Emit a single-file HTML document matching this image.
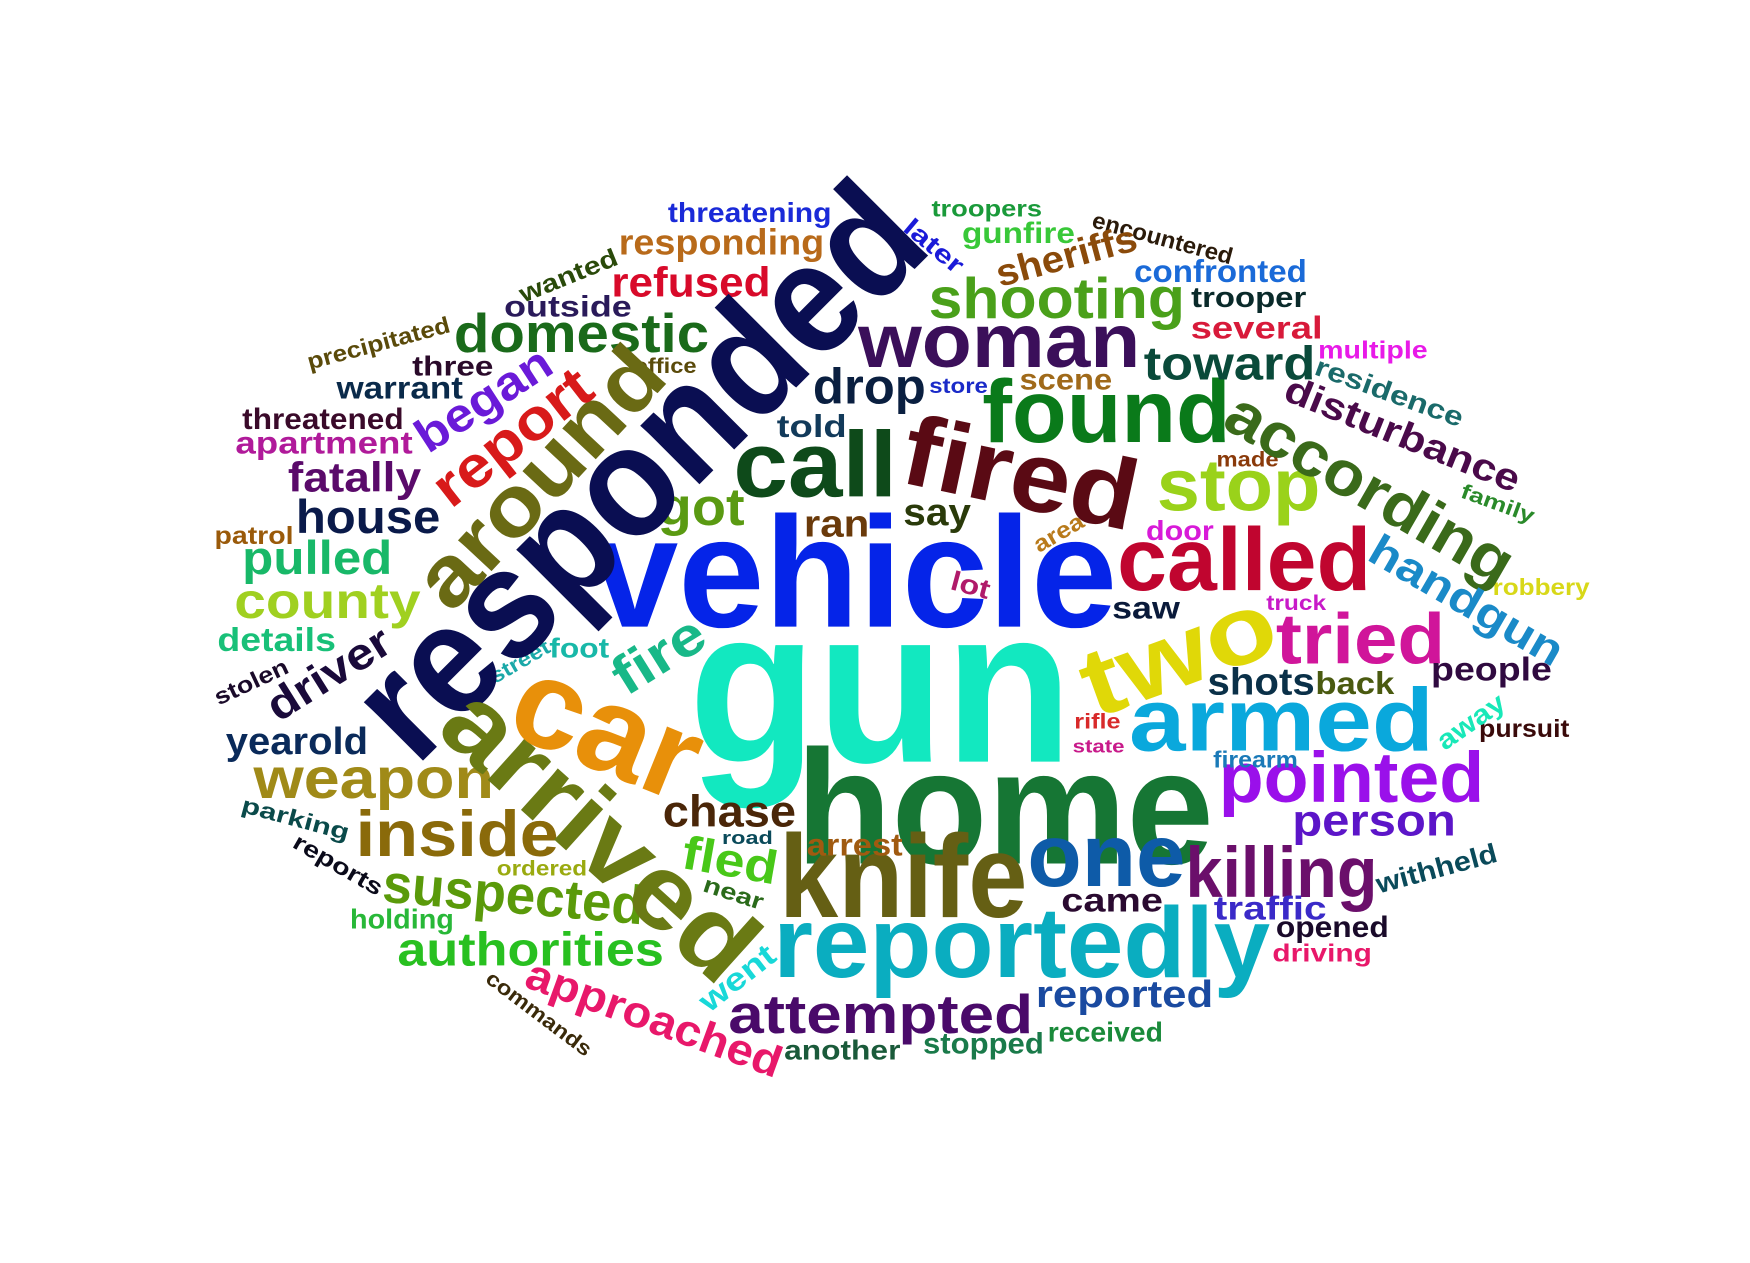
<!DOCTYPE html>
<html><head><meta charset="utf-8">
<style>
html,body{margin:0;padding:0;background:#fff;}
svg{display:block;}
text{font-family:"Liberation Sans","DejaVu Sans",sans-serif;font-weight:bold;}
</style></head>
<body>
<svg id="cloud" width="1750" height="1263" viewBox="0 0 1550 1118.6" xmlns="http://www.w3.org/2000/svg">
<rect width="1550" height="1119" fill="#fff"/>
</svg>
<script>
const words = ["gun","vehicle","home","knife","reportedly","one","killing","armed","pointed","person","called","tried","fired","call","found","woman","stop","got","drop","toward","told","ran","say","saw","shots","back","people","chase","arrest","came","traffic","opened","driving","withheld","reported","attempted","received","stopped","another","authorities","suspected","holding","ordered","inside","weapon","yearold","county","details","pulled","house","fatally","patrol","apartment","threatened","warrant","three","office","outside","domestic","refused","responding","threatening","troopers","gunfire","shooting","scene","store","confronted","trooper","several","multiple","made","family","door","robbery","truck","pursuit","firearm","rifle","state","lot","road","stolen","street","foot","parking","encountered","responded","around","report","began","arrived","car","fire","driver","fled","near","went","approached","commands","reports","two","according","disturbance","residence","handgun","away","sheriffs","later","wanted","precipitated","area"];
const weights = [210,150,155,112,95,85,68,85,68,42,85,68,95,88,85,72,70,50,48,45,30,36,36,30,36,30,32,42,30,32,32,28,24,26,36,52,26,28,26,45,52,26,20,62,55,36,48,32,45,45,40,24,30,28,30,26,20,28,52,40,34,26,22,28,55,28,20,30,27,30,24,20,20,26,22,20,24,22,20,18,26,18,22,20,26,22,22,150,82,55,45,100,120,52,42,45,22,30,42,20,22,92,60,36,26,42,26,36,24,24,22,22];
const colors = ["#12e8c0","#0524e8","#167634","#655f14","#0aadc0","#0e5ba8","#6b0f6b","#0aa8dc","#9a10ea","#5c15c8","#c0052f","#d0159a","#5a0a14","#0e4a1a","#0a7a1a","#3b0f5a","#9ad21a","#5a9a12","#0a1f40","#0a4a3a","#123a5a","#6a3a0a","#2a3a0a","#0a1a3a","#0a3048","#4a5a10","#300a40","#4a2608","#a05a10","#2a0a30","#3a2ac8","#1a0a2a","#e8186a","#0a4a5a","#1a4aa0","#4a0a6a","#1a8a3a","#1a7a4a","#1a5a3a","#28c020","#5a9a0a","#28b838","#9aaa10","#8a6a0a","#a08a18","#0a2a5a","#a0d020","#18c078","#18b868","#0a1a4a","#5a0a6a","#9a5a0a","#b01a9a","#3a0a2a","#0a2a4a","#2a0a2a","#5a4a0a","#2a1a5a","#1a6a1a","#d80a2a","#b86a1a","#1a2ad8","#1a9a3a","#38c838","#4aa01a","#a06a1a","#1a2ac8","#1a6ad8","#0a2a2a","#d81a3a","#e81ae8","#8a3a0a","#2a8a2a","#d81ad8","#d8d818","#c81ac8","#3a0a0a","#1a7ab8","#d82a2a","#c81a8a","#b01a6a","#0a4a5a","#1a0a2a","#1aa8a8","#18b8a8","#0a4a4a","#2a1a0a","#0a0e52","#6a6a14","#d81a1a","#6a1ad8","#6a7a14","#e8900a","#18b888","#1a0a3a","#48c818","#2a6a1a","#18d8d8","#e8186a","#3a2a0a","#0a0a1a","#e0d808","#3a6a1a","#4a0a4a","#1a6a6a","#1a8ac8","#18e8b8","#8a4a0a","#1a1ad8","#2a4a0a","#5a4a0a","#b87a1a"];
// layout: [centerX, centerY, angle, length]
const layout = [[780,599,0,340],[757,501,0,465],[890,709,0,370],[800,772,0,220],[905,831,0,440],[980,754,0,140],[1135,770,0,170],[1135,634,0,270],[1197,686,0,235],[1217,725,0,145],[1102,492,0,225],[1205,563,0,150],[905,415,12,210],[722,408,0,145],[980,361,0,220],[885,299,0,250],[1097,427,0,145],[621,447,0,77],[770,340,0,100],[1089,320,0,152],[719,376,0,62],[741,462,0,58],[830,452,0,60],[1015,537,0,60],[1117,602,0,95],[1200,604,0,70],[1321,591,0,107],[646,717,0,118],[757,747,0,85],[985,796,0,90],[1125,803,0,100],[1180,820,0,100],[1171,843,0,88],[1272,768,-15,110],[996,879,0,157],[780,896,0,270],[979,913,0,102],[871,923,0,107],[746,929,0,103],[470,839,0,236],[455,790,5,232],[356,813,0,92],[480,768,0,80],[405,736,0,180],[331,687,0,213],[263,655,0,126],[290,530,0,165],[245,565,0,105],[281,492,0,133],[326,456,0,128],[314,421,0,118],[225,473,0,70],[287,391,0,157],[286,370,0,143],[354,342,0,112],[401,323,0,72],[589,323,0,56],[503,270,0,113],[515,293,0,226],[612,248,0,141],[639,213,0,182],[664,187,0,145],[874,184,0,98],[902,205,0,100],[936,262,0,227],[944,335,0,82],[849,341,0,52],[1081,239,0,153],[1106,262,0,102],[1113,289,0,117],[1216,309,0,97],[1105,406,0,55],[1327,445,20,68],[1045,469,0,60],[1365,519,0,86],[1148,533,0,53],[1350,644,0,80],[1112,672,0,75],[972,638,0,41],[973,660,0,46],[860,517,15,35],[662,741,0,45],[222,603,-25,70],[460,585,-30,58],[513,573,0,53],[262,724,15,98],[1030,210,15,128],[560,412,-45,650],[475,420,-47,285],[452,385,-38,165],[427,352,-33,135],[535,735,42,340],[540,640,22,170],[582,578,-32,88],[290,595,-32,122],[647,760,10,85],[650,790,18,55],[652,865,-38,78],[580,900,20,238],[478,897,37,112],[300,765,30,88],[1042,575,-20,178],[1215,430,30,285],[1243,383,22,222],[1231,346,20,138],[1300,530,30,192],[1302,638,-35,68],[944,225,-15,128],[828,217,40,62],[503,243,-22,92],[335,303,-15,130],[937,471,-30,48]];
const svg = document.getElementById('cloud');
const NS = 'http://www.w3.org/2000/svg';
for (let i = 0; i < words.length; i++) {
  const fs = weights[i];
  const [cx, cy, ang, len] = layout[i];
  const t = document.createElementNS(NS, 'text');
  
  
  t.setAttribute('x', 0);
  t.setAttribute('y', (0.36 * fs).toFixed(1));
  t.setAttribute('font-size', (0.93 * fs).toFixed(1));
  t.setAttribute('fill', colors[i]);
  t.setAttribute('text-anchor', 'middle');
  t.setAttribute('textLength', len);
  t.setAttribute('lengthAdjust', 'spacingAndGlyphs');
  t.setAttribute('transform', 'translate(' + cx + ',' + cy + ') rotate(' + ang + ')');
  t.textContent = words[i];
  svg.appendChild(t);
}
</script>
</body></html>
